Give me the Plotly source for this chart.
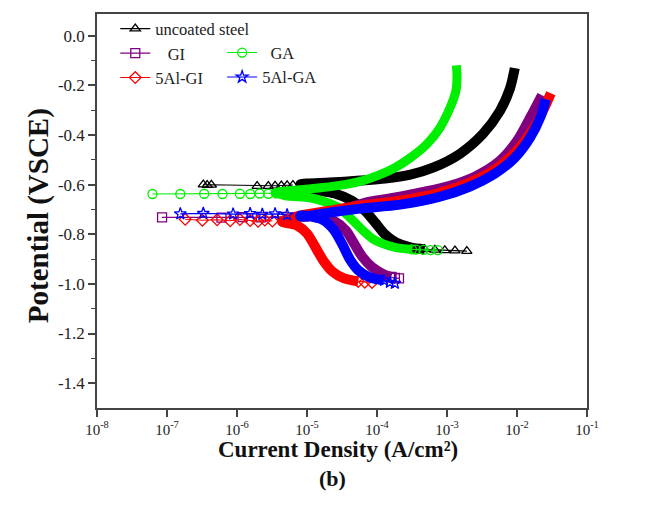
import plotly.graph_objects as go

# ---------------- polarization data (current density A/cm2, potential V vs SCE) ----------------
# uncoated steel
steel_tail_i = [6.7e-4, 9.3e-4, 1.3e-3, 1.92e-3]
steel_tail_E = [-0.863, -0.865, -0.866, -0.868]
steel_cath_i = [1.1e-5, 2.5e-5, 4.4e-5, 6.7e-5, 9.4e-5, 1.3e-4, 1.87e-4, 3.0e-4, 4.8e-4]
steel_cath_E = [-0.617, -0.636, -0.665, -0.705, -0.753, -0.801, -0.833, -0.853, -0.861]
steel_near_i = [3.3e-7, 3.75e-7, 4.3e-7, 1.94e-6, 2.8e-6, 3.5e-6, 4.3e-6, 5.2e-6, 6.3e-6]
steel_near_E = [-0.600, -0.602, -0.601, -0.606, -0.606, -0.605, -0.604, -0.603, -0.602]
steel_anod_i = [8.0e-6, 2.1e-5, 5.7e-5, 1.3e-4, 3.0e-4, 6.3e-4, 1.53e-3, 3.26e-3, 5.7e-3, 7.9e-3, 9.3e-3]
steel_anod_E = [-0.600, -0.592, -0.584, -0.576, -0.560, -0.532, -0.476, -0.396, -0.304, -0.215, -0.131]

# GI
gi_tail_i = [1.6e-4, 1.8e-4, 2.06e-4]
gi_tail_E = [-0.974, -0.976, -0.978]
gi_cath_i = [1.54e-5, 2.5e-5, 3.6e-5, 4.7e-5, 6.1e-5, 8.5e-5, 1.26e-4, 1.6e-4]
gi_cath_E = [-0.733, -0.749, -0.785, -0.837, -0.889, -0.933, -0.962, -0.972]
gi_near_i = [8.5e-8, 6.0e-7, 1.2e-6, 2.2e-6, 4.5e-6, 9.0e-6]
gi_near_E = [-0.732, -0.733, -0.731, -0.732, -0.730, -0.729]
gi_anod_i = [1.54e-5, 3.5e-5, 7.9e-5, 2.13e-4, 4.8e-4, 1.1e-3, 2.5e-3, 5.7e-3, 1.0e-2, 1.53e-2, 2.27e-2]
gi_anod_E = [-0.721, -0.697, -0.669, -0.649, -0.629, -0.605, -0.568, -0.504, -0.424, -0.332, -0.240]

# GA
ga_tail_i = [3.6e-4, 4.6e-4, 5.8e-4, 7.4e-4]
ga_tail_E = [-0.862, -0.863, -0.864, -0.864]
ga_cath_i = [4.9e-6, 1.1e-5, 1.8e-5, 2.7e-5, 3.7e-5, 4.85e-5, 6.3e-5, 8.5e-5, 1.18e-4, 1.8e-4, 3.15e-4]
ga_cath_E = [-0.645, -0.653, -0.669, -0.689, -0.721, -0.753, -0.785, -0.817, -0.837, -0.853, -0.861]
ga_near_i = [6.2e-8, 1.55e-7, 3.4e-7, 6.2e-7, 1.1e-6, 1.55e-6, 2.1e-6, 2.8e-6, 3.6e-6]
ga_near_E = [-0.638, -0.638, -0.637, -0.638, -0.637, -0.638, -0.636, -0.637, -0.635]
ga_anod_i = [3.5e-6, 8.0e-6, 1.54e-5, 3.5e-5, 6.3e-5, 1.1e-4, 1.8e-4, 3.0e-4, 5.2e-4, 7.9e-4, 1.1e-3, 1.34e-3, 1.39e-3, 1.36e-3]
ga_anod_E = [-0.633, -0.621, -0.613, -0.600, -0.584, -0.560, -0.532, -0.492, -0.436, -0.372, -0.292, -0.223, -0.163, -0.120]

# 5Al-GI
algi_tail_i = [6.7e-5, 8.5e-5]
algi_tail_E = [-0.993, -0.994]
algi_cath_i = [4.4e-6, 7.2e-6, 1.0e-5, 1.3e-5, 1.7e-5, 2.3e-5, 3.4e-5, 5.4e-5]
algi_cath_E = [-0.749, -0.765, -0.797, -0.849, -0.905, -0.950, -0.978, -0.990]
algi_near_i = [1.82e-7, 3.2e-7, 5.2e-7, 8.0e-7, 1.1e-6, 1.54e-6, 2.0e-6, 2.5e-6, 3.2e-6]
algi_near_E = [-0.740, -0.744, -0.742, -0.746, -0.741, -0.745, -0.748, -0.743, -0.747]
algi_anod_i = [8.0e-6, 2.1e-5, 5.7e-5, 2.13e-4, 7.9e-4, 2.12e-3, 4.83e-3, 9.3e-3, 1.63e-2, 2.41e-2, 3.04e-2]
algi_anod_E = [-0.725, -0.705, -0.685, -0.665, -0.633, -0.592, -0.540, -0.472, -0.384, -0.296, -0.232]

# 5Al-GA
alga_tail_i = [1.53e-4, 1.8e-4]
alga_tail_E = [-0.994, -0.998]
alga_cath_i = [8.0e-6, 1.64e-5, 2.4e-5, 3.2e-5, 4.1e-5, 5.4e-5, 7.9e-5, 1.26e-4]
alga_cath_E = [-0.725, -0.741, -0.781, -0.841, -0.901, -0.945, -0.974, -0.986]
alga_near_i = [1.55e-7, 3.3e-7, 8.8e-7, 1.54e-6, 2.3e-6, 3.5e-6, 5.2e-6]
alga_near_E = [-0.718, -0.716, -0.719, -0.717, -0.720, -0.718, -0.722]
alga_anod_i = [8.0e-6, 2.1e-5, 5.7e-5, 2.13e-4, 7.9e-4, 2.12e-3, 4.83e-3, 9.3e-3, 1.53e-2, 2.19e-2, 2.58e-2]
alga_anod_E = [-0.729, -0.713, -0.697, -0.681, -0.649, -0.608, -0.556, -0.492, -0.412, -0.324, -0.256]

x_tick_vals = [1e-8, 1e-7, 1e-6, 1e-5, 1e-4, 1e-3, 1e-2, 1e-1]
x_tick_text = ["10<sup>-8</sup>", "10<sup>-7</sup>", "10<sup>-6</sup>", "10<sup>-5</sup>",
               "10<sup>-4</sup>", "10<sup>-3</sup>", "10<sup>-2</sup>", "10<sup>-1</sup>"]
y_tick_vals = [0.0, -0.2, -0.4, -0.6, -0.8, -1.0, -1.2, -1.4]
y_tick_text = ["0.0", "-0.2", "-0.4", "-0.6", "-0.8", "-1.0", "-1.2", "-1.4"]

SERIF = "Liberation Serif, Times New Roman, serif"

series = [
    dict(name="uncoated steel", color="#000000", symbol="triangle-up-open", legend="legend", band=10,
         tail=(steel_tail_i, steel_tail_E), cath=(steel_cath_i, steel_cath_E),
         near=(steel_near_i, steel_near_E), anod=(steel_anod_i, steel_anod_E)),
    dict(name="\u00a0\u00a0\u00a0GI", color="#800080", symbol="square-open", legend="legend", band=10,
         tail=(gi_tail_i, gi_tail_E), cath=(gi_cath_i, gi_cath_E),
         near=(gi_near_i, gi_near_E), anod=(gi_anod_i, gi_anod_E)),
    dict(name="\u00a0\u00a0GA", color="#00ee00", symbol="circle-open", legend="legend2", band=9,
         tail=(ga_tail_i, ga_tail_E), cath=(ga_cath_i, ga_cath_E),
         near=(ga_near_i, ga_near_E), anod=(ga_anod_i, ga_anod_E)),
    dict(name="5Al-GI", color="#ff0000", symbol="diamond-open", legend="legend", band=10,
         tail=(algi_tail_i, algi_tail_E), cath=(algi_cath_i, algi_cath_E),
         near=(algi_near_i, algi_near_E), anod=(algi_anod_i, algi_anod_E)),
    dict(name="5Al-GA", color="#0000ff", symbol="star-open", legend="legend2", band=10,
         tail=(alga_tail_i, alga_tail_E), cath=(alga_cath_i, alga_cath_E),
         near=(alga_near_i, alga_near_E), anod=(alga_anod_i, alga_anod_E)),
]

fig = go.Figure()
for s in series:
    ci, cE = s["cath"]
    ai, aE = s["anod"]
    # dense part of the sweep: cathodic branch (reversed) joined to anodic branch
    fig.add_trace(go.Scatter(
        x=list(reversed(ci)) + list(ai), y=list(reversed(cE)) + list(aE),
        mode="lines", line=dict(color=s["color"], width=s["band"], shape="spline", smoothing=0.8),
        showlegend=False, hoverinfo="skip", legend=s["legend"]))
    # sparse points around the corrosion potential
    ni, nE = s["near"]
    fig.add_trace(go.Scatter(
        x=ni, y=nE, mode="lines+markers", name=s["name"], legend=s["legend"],
        line=dict(color=s["color"], width=1.1),
        marker=dict(symbol=s["symbol"], size=9, color=s["color"], line=dict(width=1.3, color=s["color"]))))
    # tail of the cathodic branch
    ti, tE = s["tail"]
    fig.add_trace(go.Scatter(
        x=[ci[-1]] + list(ti), y=[cE[-1]] + list(tE), mode="lines+markers", showlegend=False,
        legend=s["legend"], line=dict(color=s["color"], width=1.1),
        marker=dict(symbol=s["symbol"], size=9, color=s["color"], line=dict(width=1.3, color=s["color"]))))

axis_common = dict(showline=True, linecolor="#444", linewidth=1.5, mirror=True,
                   ticks="outside", ticklen=7, tickwidth=1.5, tickcolor="#444",
                   showgrid=False, zeroline=False)

fig.update_xaxes(type="log", range=[-8, -1], tickvals=x_tick_vals, ticktext=x_tick_text,
                 tickfont=dict(family=SERIF, size=15, color="#222"), **axis_common)
fig.update_yaxes(range=[-1.5, 0.087], tickvals=y_tick_vals, ticktext=y_tick_text,
                 tickfont=dict(family=SERIF, size=17, color="#222"),
                 minor=dict(tickvals=[-0.1, -0.3, -0.5, -0.7, -0.9, -1.1, -1.3],
                            ticks="outside", ticklen=4, tickwidth=1.2, tickcolor="#444"),
                 **axis_common)

legend_style = dict(xanchor="left", yanchor="top", bgcolor="rgba(0,0,0,0)", borderwidth=0,
                    font=dict(family=SERIF, size=16.5, color="#222"), tracegroupgap=0)

fig.update_layout(
    width=652, height=510,
    margin=dict(l=97, r=65, t=13, b=102),
    paper_bgcolor="white", plot_bgcolor="white",
    legend=dict(x=0.0373, y=1.004, **legend_style),
    legend2=dict(x=0.2554, y=0.9435, **legend_style),
    annotations=[
        dict(text="<b>Current Density (A/cm\u00b2)</b>", xref="paper", yref="paper",
             x=0.4918, y=-0.106, xanchor="center", yanchor="middle", showarrow=False,
             font=dict(family=SERIF, size=23, color="#111")),
        dict(text="<b>Potential (VSCE)</b>", xref="paper", yref="paper", textangle=-90,
             x=-0.1196, y=0.4878, xanchor="center", yanchor="middle", showarrow=False,
             font=dict(family=SERIF, size=29, color="#111")),
        dict(text="<b>(b)</b>", xref="paper", yref="paper",
             x=0.4796, y=-0.18, xanchor="center", yanchor="middle", showarrow=False,
             font=dict(family=SERIF, size=22, color="#111")),
    ],
)

fig.write_html("out.html")
